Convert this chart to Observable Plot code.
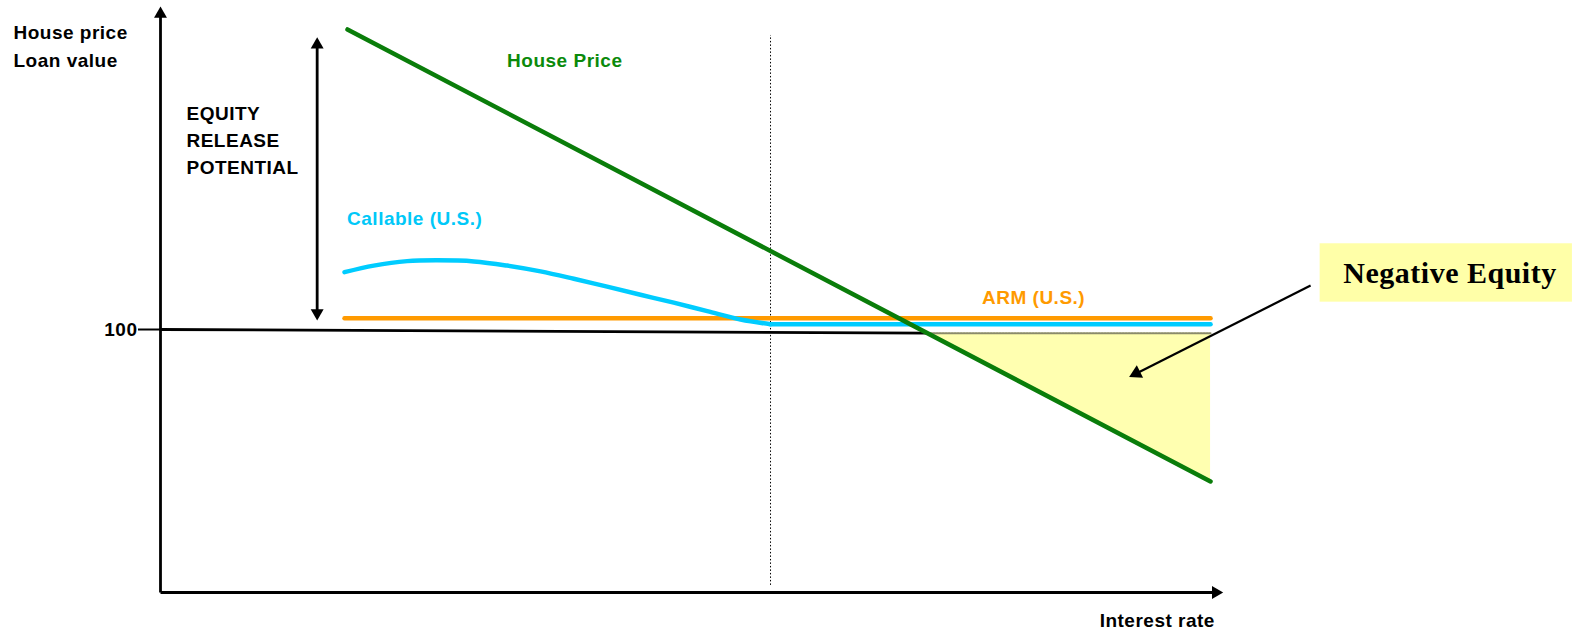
<!DOCTYPE html>
<html><head><meta charset="utf-8">
<script src="https://cdn.jsdelivr.net/npm/d3@7"></script>
<script src="https://cdn.jsdelivr.net/npm/@observablehq/plot@0.6"></script>
<style>
html,body{margin:0;padding:0;background:#fff;overflow:hidden}
svg text{letter-spacing:0.5px}
</style></head><body><div id="chart"></div>
<script>
// Schematic values: x = interest rate (0-100 units), y = price index (100 = initial loan value)
const housePrice = [{x: 17.64, y: 214.1}, {x: 99.06, y: 42.2}];
const callableCurve = [
  {x: 17.36, y: 121.8}, {x: 20.12, y: 124.3}, {x: 23.27, y: 126.0}, {x: 26.10, y: 126.3},
  {x: 29.56, y: 125.9}, {x: 32.71, y: 124.3}, {x: 35.85, y: 122.1}, {x: 38.99, y: 119.3},
  {x: 42.14, y: 116.3}, {x: 45.28, y: 113.2}, {x: 48.42, y: 110.2}, {x: 51.58, y: 107.0},
  {x: 54.72, y: 103.8}, {x: 57.55, y: 102.0}
];
const callableFlat = [{x: 57.55, y: 102.0}, {x: 99.06, y: 102.0}];
const arm = [{x: 17.36, y: 104.3}, {x: 99.06, y: 104.3}];
const loanLine = [{x: 0, y: 100}, {x: 72.35, y: 98.6}];
const negativeArea = [{x: 72.35, top: 98.6, bottom: 98.6}, {x: 99.06, top: 98.6, bottom: 42.2}];
const dividerX = [{x: 57.55, y1: 2.7, y2: 211.8}];
const equityArrow = [{x: 14.78, y1: 106.3, y2: 208.3}];
const axisLines = [{x1: 0, y1: 0, x2: 0, y2: 220.0}, {x1: 0, y1: 0, x2: 99.55, y2: 0}];
const arrowHeads = [
  {x: 0, y: 220.0, rot: 0, r: 4.8},      // y axis
  {x: 99.55, y: 0, rot: 90, r: 4.8},     // x axis
  {x: 14.78, y: 208.3, rot: 0, r: 4.8},  // equity arrow top
  {x: 14.78, y: 106.3, rot: 180, r: 4.8},// equity arrow bottom
  {x: 92.06, y: 83.3, rot: 243.2, r: 5.2} // negative equity pointer
];
const pointer = [{x1: 108.5, y1: 116.7, x2: 92.06, y2: 83.3}];
const yTicks = [100];
const blackLabels = [
  {x: -13.87, y: 210.3, text: "House price"},
  {x: -13.87, y: 200.0, text: "Loan value"},
  {x: 2.45, y: 179.5, text: "EQUITY"},
  {x: 2.45, y: 169.3, text: "RELEASE"},
  {x: 2.45, y: 159.3, text: "POTENTIAL"},
  {x: 88.6, y: -13.3, text: "Interest rate"}
];
const seriesLabels = [
  {x: 32.7, y: 199.7, text: "House Price", color: "#0b8a0b"},
  {x: 17.6, y: 139.9, text: "Callable (U.S.)", color: "#00c8f8"},
  {x: 77.5, y: 109.8, text: "ARM (U.S.)", color: "#ff9a00"}
];
const calloutBox = [{x1: 109.4, x2: 133.2, y1: 110.4, y2: 132.6}];
const calloutText = [{x: 121.65, y: 121.5, text: "Negative Equity"}];

const sans = "Liberation Sans, Arial, Helvetica, sans-serif";

const chart = Plot.plot({
  width: 1572,
  height: 631,
  marginLeft: 160,
  marginRight: 352,
  marginTop: 5,
  marginBottom: 39,
  style: {fontFamily: sans, background: "#fff", overflow: "visible"},
  x: {domain: [0, 100], axis: null},
  y: {domain: [0, 223.2], label: null},
  r: {type: "identity"},
  marks: [
    Plot.areaY(negativeArea, {x: "x", y1: "top", y2: "bottom", fill: "#ffffb0"}),
    Plot.line(negativeArea, {x: "x", y: "top", stroke: "#8a8a6a", strokeWidth: 2, strokeDasharray: "1.5,1.5"}),
    Plot.line(loanLine, {x: "x", y: "y", stroke: "black", strokeWidth: 2.8}),
    Plot.ruleX(dividerX, {x: "x", y1: "y1", y2: "y2", stroke: "black", strokeWidth: 1, strokeDasharray: "1.5,2"}),
    Plot.link(axisLines, {x1: "x1", y1: "y1", x2: "x2", y2: "y2", stroke: "black", strokeWidth: 2.8}),
    Plot.axisY(yTicks, {anchor: "left", tickSize: 22, tickPadding: 1, fontSize: 19, fontWeight: "bold", strokeWidth: 2, label: null, fill: "black"}),
    Plot.ruleX(equityArrow, {x: "x", y1: "y1", y2: "y2", stroke: "black", strokeWidth: 2.8}),
    Plot.line(arm, {x: "x", y: "y", stroke: "#ff9a00", strokeWidth: 4.5}),
    Plot.line(callableCurve, {x: "x", y: "y", stroke: "#00ccff", strokeWidth: 4.5, curve: "catmull-rom"}),
    Plot.line(callableFlat, {x: "x", y: "y", stroke: "#00ccff", strokeWidth: 4.5}),
    Plot.line(housePrice, {x: "x", y: "y", stroke: "#0a7d0a", strokeWidth: 4.5}),
    Plot.rect(calloutBox, {x1: "x1", x2: "x2", y1: "y1", y2: "y2", fill: "#ffffa8"}),
    Plot.link(pointer, {x1: "x1", y1: "y1", x2: "x2", y2: "y2", stroke: "black", strokeWidth: 2.2}),
    Plot.dot(arrowHeads, {x: "x", y: "y", r: "r", rotate: "rot", symbol: "triangle", fill: "black", stroke: "none"}),
    Plot.text(blackLabels, {x: "x", y: "y", text: "text", textAnchor: "start", lineAnchor: "bottom", fontSize: 19, fontWeight: "bold", fontFamily: sans, fill: "black"}),
    Plot.text(seriesLabels, {x: "x", y: "y", text: "text", textAnchor: "start", lineAnchor: "bottom", fontSize: 19, fontWeight: "bold", fontFamily: sans, fill: "color"}),
    Plot.text(calloutText, {x: "x", y: "y", text: "text", textAnchor: "middle", lineAnchor: "middle", fontSize: 30, fontWeight: "bold", fontFamily: "Liberation Serif, Times New Roman, serif", fill: "black"})
  ]
});
document.getElementById("chart").appendChild(chart);
</script></body></html>
